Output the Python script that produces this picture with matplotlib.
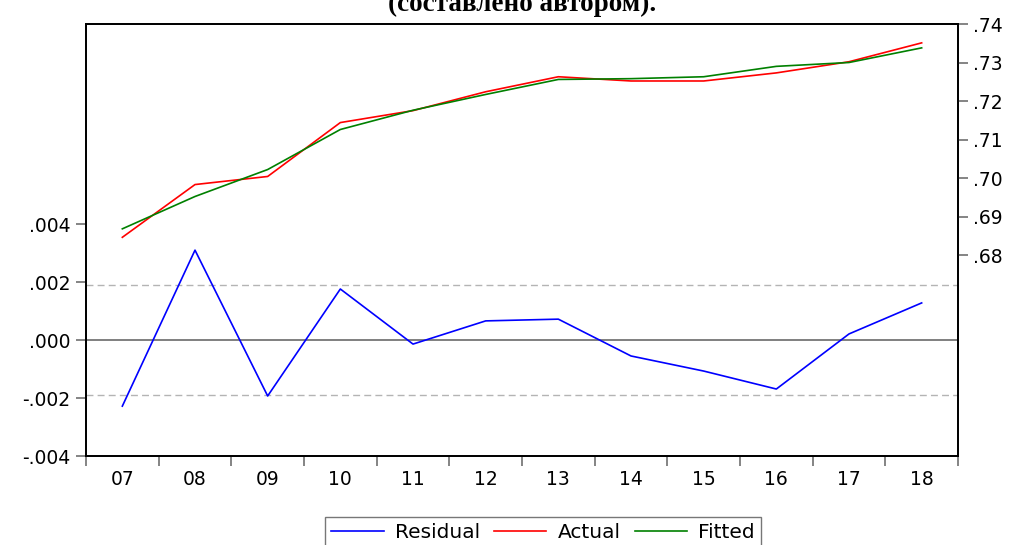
import matplotlib
matplotlib.use("Agg")
import matplotlib.pyplot as plt
from matplotlib.ticker import FixedLocator, FuncFormatter
import numpy as np

years = ["07", "08", "09", "10", "11", "12", "13", "14", "15", "16", "17", "18"]
residual = [-0.00228, 0.00310, -0.00193, 0.00176, -0.00014, 0.00066,
            0.00072, -0.00055, -0.00107, -0.00169, 0.00021, 0.00128]
actual = [0.6846, 0.6983, 0.7004, 0.7144, 0.7175, 0.7224,
          0.7263, 0.7252, 0.7252, 0.7273, 0.7302, 0.7351]
fitted = [0.6868, 0.6952, 0.7022, 0.7126, 0.7176, 0.7217,
          0.7256, 0.7258, 0.7263, 0.7290, 0.7300, 0.7338]
resid_std = 0.0019
left_ticks = [-0.004, -0.002, 0.000, 0.002, 0.004]
right_ticks = [0.68, 0.69, 0.70, 0.71, 0.72, 0.73, 0.74]
title_text = "(составлено автором)."

W, H = 1013, 545
fig = plt.figure(figsize=(W / 100, H / 100), dpi=100)
ax = fig.add_axes([86 / W, 1 - 456 / H, (958 - 86) / W, (456 - 24) / H])
ax2 = ax.twinx()

x = np.arange(len(years))

# residual axis (left)
ax.axhline(0, color="#6a6a6a", lw=1.2, zorder=1)
ax.axhline(resid_std, color="#b4b4b4", lw=1.0, ls=(0, (5, 3)), zorder=1)
ax.axhline(-resid_std, color="#b4b4b4", lw=1.0, ls=(0, (5, 3)), zorder=1)
l1, = ax.plot(x, residual, color="#0000ff", lw=1.2, label="Residual", zorder=3)
ax.set_ylim(-0.004, 0.0109)
ax.set_xlim(-0.5, len(years) - 0.5)

# actual / fitted axis (right)
l2, = ax2.plot(x, actual, color="#ff0000", lw=1.2, label="Actual", zorder=3)
l3, = ax2.plot(x, fitted, color="#008000", lw=1.2, label="Fitted", zorder=3)
ax2.set_ylim(0.6278, 0.74)

fmt3 = FuncFormatter(lambda v, p: ("-" if v < -1e-12 else "") + f"{abs(v):.3f}"[1:])
fmt2 = FuncFormatter(lambda v, p: f"{v:.2f}"[1:])

ax.yaxis.set_major_locator(FixedLocator(left_ticks))
ax.yaxis.set_major_formatter(fmt3)
ax2.yaxis.set_major_locator(FixedLocator(right_ticks))
ax2.yaxis.set_major_formatter(fmt2)

ax.set_xticks(x)
ax.set_xticklabels(years)
ax.set_xticks(np.arange(-0.5, len(years)), minor=True)

fs = 13.5
ax.tick_params(axis="x", which="major", length=0, pad=10, labelsize=fs)
ax.tick_params(axis="x", which="minor", length=7, width=1.2, color="#707070", direction="out")
ax.tick_params(axis="y", which="major", length=7, width=1.2, color="#707070",
               direction="out", labelsize=fs, pad=4)
ax2.tick_params(axis="y", which="major", length=7, width=1.2, color="#707070",
                direction="out", labelsize=fs, pad=4)

for a in (ax, ax2):
    for s in a.spines.values():
        s.set_linewidth(1.3)
        s.set_color("black")

# cropped title at top
fig.text(0.515, 1 - 11 / H, title_text, ha="center", va="baseline",
         fontsize=19.5, fontweight="bold", family="Liberation Serif")

leg = fig.legend([l1, l2, l3], ["Residual", "Actual", "Fitted"],
                 loc="upper center", bbox_to_anchor=(543 / W, 1 - 517 / H),
                 ncol=3, fontsize=14.5, frameon=True, fancybox=False,
                 handlelength=2.6, handletextpad=0.55, columnspacing=0.7,
                 borderpad=0.3, borderaxespad=0)
leg.get_frame().set_edgecolor("#555555")
leg.get_frame().set_linewidth(1.0)

fig.savefig("out.png", dpi=100)
